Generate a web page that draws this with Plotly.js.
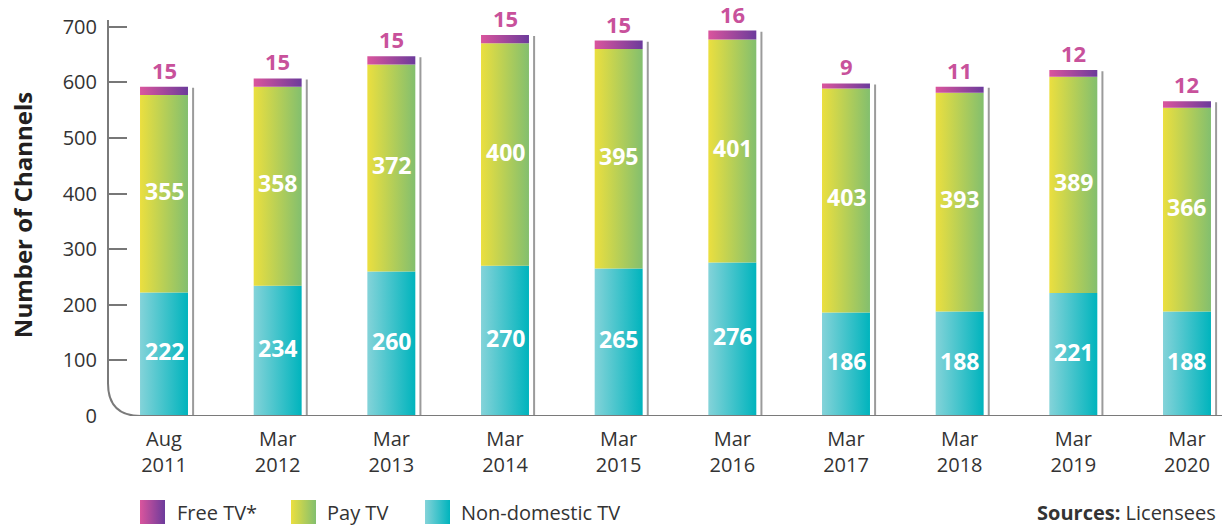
<!DOCTYPE html>
<html>
<head>
<meta charset="utf-8">
<script src="https://cdn.plot.ly/plotly-3.0.1.min.js"></script>
<style>
html,body{margin:0;padding:0;background:#fff;}
#chart{width:1222px;height:526px;}
</style>
</head>
<body>
<div id="chart"></div>
<script>
// ---- data ----
var periods = ["Aug<br>2011","Mar<br>2012","Mar<br>2013","Mar<br>2014","Mar<br>2015","Mar<br>2016","Mar<br>2017","Mar<br>2018","Mar<br>2019","Mar<br>2020"];
var nonDomestic = [222,234,260,270,265,276,186,188,221,188];
var payTV = [355,358,372,400,395,401,403,393,389,366];
var freeTV = [15,15,15,15,15,16,9,11,12,12];
var yTicks = [0,100,200,300,400,500,600,700];
var seriesNames = ["Non-domestic TV","Pay TV","Free TV*"];

// ---- styles ----
var FONT = "'Open Sans', 'Noto Sans', sans-serif";
var grad = {
  "Non-domestic TV": ["#84d3d9", "#00b4bd"],
  "Pay TV": ["#ebdf3f", "#83bf6e"],
  "Free TV*": ["#da559d", "#6c3b9b"]
};
var HW = 0.211;          // half bar width (data units)
var SHADOW_OFF = 0.256;  // grey line offset

var traces = [];
var annotations = [];
var series = [nonDomestic, payTV, freeTV];

periods.forEach(function(p, i) {
  var base = 0;
  series.forEach(function(vals, s) {
    var v = vals[i];
    var name = seriesNames[s];
    traces.push({
      type: "scatter", mode: "lines",
      x: [i - HW, i + HW, i + HW, i - HW, i - HW],
      y: [base, base, base + v, base + v, base],
      fill: "toself",
      fillgradient: {type: "horizontal", colorscale: [[0, grad[name][0]], [1, grad[name][1]]]},
      line: {width: 0, color: "rgba(0,0,0,0)"},
      hoverinfo: "skip", showlegend: false
    });
    if (s < 2) {
      annotations.push({
        x: i, y: base + v / 2, xref: "x", yref: "y", yshift: 3,
        text: "<b>" + v + "</b>", showarrow: false,
        font: {family: FONT, size: 23, color: "#ffffff"}
      });
    } else {
      annotations.push({
        x: i, y: base + v, xref: "x", yref: "y", yanchor: "bottom", yshift: 0,
        text: "<b>" + v + "</b>", showarrow: false,
        font: {family: FONT, size: 22, color: "#c8519b"}
      });
    }
    base += v;
  });
});

// grey shadow lines
var sx = [], sy = [];
periods.forEach(function(p, i) {
  var total = nonDomestic[i] + payTV[i] + freeTV[i];
  sx.push(i + SHADOW_OFF, i + SHADOW_OFF, null);
  sy.push(0, total - 2, null);
});
traces.unshift({
  type: "scatter", mode: "lines", x: sx, y: sy,
  line: {color: "#9b9b9b", width: 2}, hoverinfo: "skip", showlegend: false
});

// axis title
annotations.push({
  xref: "paper", yref: "paper", x: -0.0772, y: 0.591, textangle: -90,
  xanchor: "center", yanchor: "middle",
  text: "<b>Number of Channels</b>", showarrow: false,
  font: {family: FONT, size: 24, color: "#231f20"}
});

// legend
function pxX(px) { return (px - 108) / 1114; }
function pxY(py) { return (526 - py) / 526; }
var legendItems = [
  {name: "Free TV*", sw: 140, tx: 175},
  {name: "Pay TV", sw: 291, tx: 325},
  {name: "Non-domestic TV", sw: 425, tx: 459}
];
var images = [];
legendItems.forEach(function(it) {
  var c = grad[it.name];
  var svg = '<svg xmlns="http://www.w3.org/2000/svg" width="25" height="24" viewBox="0 0 25 24" preserveAspectRatio="none">' +
    '<defs><linearGradient id="g" x1="0" x2="1" y1="0" y2="0"><stop offset="0" stop-color="' + c[0] + '"/><stop offset="1" stop-color="' + c[1] + '"/></linearGradient></defs>' +
    '<rect width="25" height="24" fill="url(#g)"/></svg>';
  images.push({
    source: "data:image/svg+xml;base64," + btoa(svg),
    xref: "paper", yref: "paper", x: pxX(it.sw), y: pxY(500),
    sizex: 25 / 1114, sizey: 24 / 526, sizing: "stretch",
    xanchor: "left", yanchor: "top", layer: "above"
  });
  annotations.push({
    xref: "paper", yref: "paper", x: pxX(it.tx), y: pxY(512),
    xanchor: "left", yanchor: "middle", text: it.name, showarrow: false,
    font: {family: FONT, size: 20, color: "#333333"}
  });
});
annotations.push({
  xref: "paper", yref: "paper", x: pxX(1218), y: pxY(512),
  xanchor: "right", yanchor: "middle", text: "<b>Sources:</b> Licensees", showarrow: false,
  font: {family: FONT, size: 20, color: "#333333"}
});

var layout = {
  width: 1222, height: 526,
  margin: {l: 108, r: 0, t: 0, b: 0, pad: 0},
  paper_bgcolor: "#ffffff", plot_bgcolor: "#ffffff",
  showlegend: false,
  xaxis: {
    range: [-0.4927, 9.308], tickvals: periods.map(function(p, i) { return i; }),
    ticktext: periods, showgrid: false, zeroline: false, showline: false, ticks: "",
    ticklabelstandoff: 9,
    tickfont: {family: FONT, size: 20, color: "#333333"}
  },
  yaxis: {
    range: [0, 712], domain: [0.2091, 0.962], tickvals: yTicks,
    showgrid: false, zeroline: false, showline: false,
    ticks: "inside", ticklen: 19, tickwidth: 2, tickcolor: "#777777",
    ticklabelstandoff: 10,
    tickfont: {family: FONT, size: 20, color: "#333333"}
  },
  shapes: [{
    type: "path", xref: "paper", yref: "y",
    path: "M 0,712 L 0,59 Q 0,0 0.0296,0 L 1,0",
    line: {color: "#7a7a7a", width: 2}, layer: "above"
  }],
  annotations: annotations,
  images: images
};

Plotly.newPlot("chart", traces, layout, {displayModeBar: false, staticPlot: true});
</script>
</body>
</html>
